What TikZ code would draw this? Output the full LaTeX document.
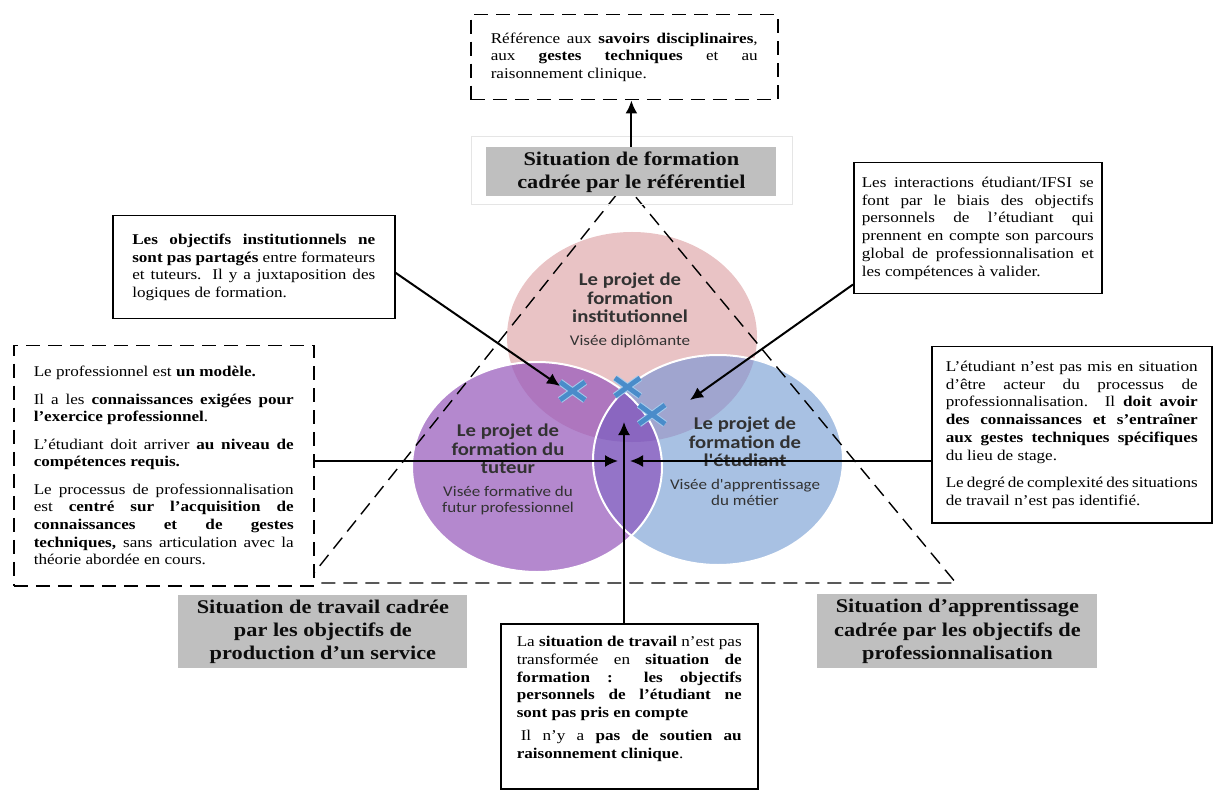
\documentclass[tikz,border=0pt]{standalone}
\usepackage{fontspec}
\setmainfont{Liberation Serif}[FakeStretch=1.15]
\newfontfamily\vennfont{Carlito}[FakeStretch=1.15]
\usetikzlibrary{arrows.meta}

\definecolor{pinkset}{RGB}{233,195,197}
\definecolor{tutset}{RGB}{180,136,206}
\definecolor{etuset}{RGB}{168,193,227}
\definecolor{pinktut}{RGB}{174,118,190}
\definecolor{pinketu}{RGB}{160,165,207}
\definecolor{tutetu}{RGB}{148,116,200}
\definecolor{allthree}{RGB}{138,102,192}
\definecolor{venntext}{RGB}{50,50,50}
\definecolor{labelgray}{RGB}{191,191,191}
\definecolor{xblue}{RGB}{74,140,202}
\definecolor{xlight}{RGB}{165,203,236}

\newcommand{\boxfont}{\fontsize{7.45}{8.85}\selectfont\hyphenpenalty=10000\tolerance=9999}
\newcommand{\labelfont}{\fontsize{9.7}{11.65}\selectfont\bfseries}
\newcommand{\paragap}{\par\vspace{4.8pt}}

\begin{document}
\begin{tikzpicture}[x=0.5pt,y=-0.5pt,
    textbox/.style={draw, line width=0.75pt, fill=white, anchor=north west, align=justify, font=\boxfont, inner ysep=0pt},
    dashbox/.style={textbox, dash pattern=on 7pt off 4pt},
    graylabel/.style={fill=labelgray, anchor=north west, align=center, font=\labelfont, text=black!95, inner sep=0pt},
    venntitle/.style={font=\vennfont\bfseries\fontsize{9}{9.25}\selectfont, text=venntext, align=center, inner sep=0pt},
    vennsub/.style={font=\vennfont\fontsize{7.4}{8}\selectfont, text=venntext, align=center, inner sep=0pt},
    link/.style={line width=1pt, -{Latex[length=6.5pt,width=6pt]}},
    dashtri/.style={line width=0.7pt, dash pattern=on 7pt off 4pt},
    xmark/.style={line width=0.5pt, draw=xlight, double=xblue, double distance=2.4pt}]
    \useasboundingbox (0,0) rectangle (1218,790);

    % les trois projets
    \fill[pinkset] (632,337) ellipse (125 and 105);
    \fill[tutset] (537,467) ellipse (125 and 105);
    \fill[etuset] (718,460) ellipse (125 and 105);
    \begin{scope}
        \clip (632,337) ellipse (125 and 105);
        \fill[pinktut] (537,467) ellipse (125 and 105);
        \fill[pinketu] (718,460) ellipse (125 and 105);
    \end{scope}
    \begin{scope}
        \clip (537,467) ellipse (125 and 105);
        \fill[tutetu] (718,460) ellipse (125 and 105);
        \clip (632,337) ellipse (125 and 105);
        \fill[allthree] (718,460) ellipse (125 and 105);
    \end{scope}
    \draw[white, line width=1pt] (537,467) ellipse (125 and 105);
    \draw[white, line width=1pt] (718,460) ellipse (125 and 105);

    \node[venntitle] (instTitle) at (630,298) {Le projet de\\formation\\institutionnel};
    \node[vennsub] (instSub) at (630,342) {Visée diplômante};
    \node[venntitle] (tutTitle) at (508,449) {Le projet de\\formation du\\tuteur};
    \node[vennsub] (tutSub) at (508,501) {Visée formative du\\futur professionnel};
    \node[venntitle] (etuTitle) at (745,442) {Le projet de\\formation de\\l'étudiant};
    \node[vennsub] (etuSub) at (745,492.5) {Visée d'apprentissage\\du métier};

    % triangle des situations
    \draw[dashtri] (306,583) -- (625,184) -- (956,583) -- cycle;
    \draw[black!10, line width=0.5pt] (471,137) rectangle (792,205);

    \node[graylabel, minimum width=145pt, minimum height=24.5pt] (refgray) at (486,147)
        {Situation de formation\\cadrée par le référentiel};
    \node[graylabel, minimum width=144.5pt, minimum height=36.5pt] (prodgray) at (178,595)
        {Situation de travail cadrée\\par les objectifs de\\production d’un service};
    \node[graylabel, minimum width=140pt, minimum height=37pt] (progray) at (817,594)
        {Situation d’apprentissage\\cadrée par les objectifs de\\professionnalisation};

    % encadres
    \node[dashbox, text width=133.5pt, inner xsep=10pt, minimum height=42.5pt] (savoirs) at (470,14)
        {Référence aux \textbf{savoirs disciplinaires}, \linebreak aux \textbf{gestes techniques} et au \linebreak raisonnement clinique.};
    \node[textbox, text width=121.5pt, inner xsep=9.75pt, minimum height=51.5pt] (objinst) at (112,215)
        {\textbf{Les objectifs institutionnels ne} \linebreak \textbf{sont pas partagés} entre formateurs \linebreak et tuteurs. Il y a juxtaposition des \linebreak logiques de formation.};
    \node[textbox, text width=116pt, inner xsep=4pt, minimum height=65.5pt] (interact) at (853,162)
        {Les interactions étudiant/IFSI se \linebreak font par le biais des objectifs \linebreak personnels de l’étudiant qui \linebreak prennent en compte son parcours \linebreak global de professionnalisation et \linebreak les compétences à valider.};
    \node[dashbox, text width=130pt, inner xsep=10pt, minimum height=120pt] (modele) at (13,345)
        {Le professionnel est \textbf{un modèle.}\paragap
         Il a les \textbf{connaissances exigées pour} \linebreak \textbf{l’exercice professionnel}.\paragap
         L’étudiant doit arriver \textbf{au niveau de} \linebreak \textbf{compétences requis.}\paragap
         Le processus de professionnalisation \linebreak est \textbf{centré sur l’acquisition de} \linebreak \textbf{connaissances et de gestes} \linebreak \textbf{techniques,} sans articulation avec la \linebreak théorie abordée en cours.};
    \node[textbox, text width=126pt, inner xsep=7pt, minimum height=88pt] (etudiant) at (931,346)
        {L’étudiant n’est pas mis en situation \linebreak d’être acteur du processus de \linebreak professionnalisation. Il \textbf{doit avoir} \linebreak \textbf{des connaissances et s’entraîner} \linebreak \textbf{aux gestes techniques spécifiques} \linebreak du lieu de stage.\paragap
         Le degré de complexité des situations \linebreak de travail n’est pas identifié.};
    \node[textbox, text width=112.5pt, inner xsep=8pt, minimum height=82.5pt] (travail) at (500,623)
        {La \textbf{situation de travail} n’est pas \linebreak transformée en \textbf{situation de} \linebreak \textbf{formation : les objectifs} \linebreak \textbf{personnels de l’étudiant ne} \linebreak \textbf{sont pas pris en compte}\par\vspace{2.8pt}
         \hspace*{2pt}Il n’y a \textbf{pas de soutien au} \linebreak \textbf{raisonnement clinique}.\par\leavevmode};

    % points de rupture
    \draw[xmark] (560,382) -- (585,400) (560,400) -- (585,382);
    \draw[xmark] (615,378) -- (640,396) (615,396) -- (640,378);
    \draw[xmark] (639,405) -- (665,424) (639,424) -- (665,405);

    \coordinate (tipInst) at (560,386);
    \coordinate (tipEtu) at (690,400);
    \coordinate (tipLeft) at (618,461);
    \coordinate (tipRight) at (630,461);
    \coordinate (tipUp) at (624,422);

    \draw[link] (refgray.north) -- (refgray.north |- savoirs.south);
    \draw[link] ([yshift=-2.75pt]objinst.east) -- (tipInst);
    \draw[link] ([yshift=5pt]interact.south west) -- (tipEtu);
    \draw[link] (modele.east |- tipLeft) -- (tipLeft);
    \draw[link] (etudiant.west |- tipRight) -- (tipRight);
    \draw[link] (travail.north -| tipUp) -- (tipUp);
\end{tikzpicture}
\end{document}
